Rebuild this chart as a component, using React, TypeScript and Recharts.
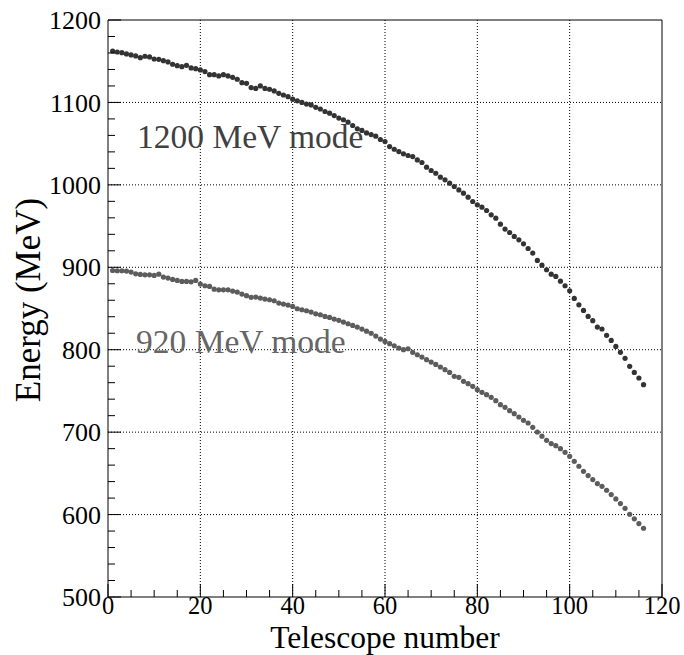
import {
  ScatterChart,
  Scatter,
  XAxis,
  YAxis,
  CartesianGrid,
  ReferenceLine,
} from "recharts";

// telescope index along the detector
const telescopes = [
  1, 2, 3, 4, 5, 6, 7, 8, 9, 10, 11, 12, 13, 14, 15, 16, 17, 18, 19, 20,
  21, 22, 23, 24, 25, 26, 27, 28, 29, 30, 31, 32, 33, 34, 35, 36, 37, 38, 39, 40,
  41, 42, 43, 44, 45, 46, 47, 48, 49, 50, 51, 52, 53, 54, 55, 56, 57, 58, 59, 60,
  61, 62, 63, 64, 65, 66, 67, 68, 69, 70, 71, 72, 73, 74, 75, 76, 77, 78, 79, 80,
  81, 82, 83, 84, 85, 86, 87, 88, 89, 90, 91, 92, 93, 94, 95, 96, 97, 98, 99, 100,
  101, 102, 103, 104, 105, 106, 107, 108, 109, 110, 111, 112, 113, 114, 115, 116,
];

// tagged photon energy per telescope, 1200 MeV beam mode
const energy1200 = [
  1162.4, 1161.2, 1160.4, 1158.8, 1157.6, 1156.4, 1154.3, 1156.0, 1155.2, 1152.7,
  1152.3, 1150.7, 1149.1, 1146.3, 1144.6, 1143.4, 1145.0, 1141.8, 1141.0, 1139.4,
  1137.4, 1133.7, 1133.7, 1132.1, 1133.7, 1132.1, 1130.5, 1128.1, 1124.0, 1123.2,
  1118.0, 1117.0, 1120.0, 1117.0, 1116.0, 1114.0, 1111.0, 1109.0, 1107.0, 1104.0,
  1102.0, 1100.0, 1098.0, 1097.0, 1094.0, 1092.0, 1089.0, 1087.0, 1084.0, 1081.0,
  1079.0, 1076.0, 1072.0, 1068.0, 1066.0, 1063.0, 1061.0, 1059.0, 1055.0, 1052.5,
  1046.5, 1043.2, 1040.4, 1037.6, 1035.6, 1034.3, 1030.3, 1027.1, 1021.5, 1017.4,
  1014.1, 1009.3, 1006.1, 1002.0, 998.0, 993.9, 989.9, 985.0, 979.8, 975.8,
  972.9, 968.9, 963.6, 959.6, 952.3, 946.3, 942.2, 937.4, 933.3, 928.5,
  922.8, 917.2, 908.3, 902.6, 897.0, 891.7, 888.9, 883.2, 877.6, 871.5,
  862.2, 854.5, 847.7, 840.4, 835.2, 827.5, 825.1, 817.4, 811.3, 804.0,
  796.8, 789.5, 779.8, 772.5, 765.7, 757.6,
];

// tagged photon energy per telescope, 920 MeV beam mode
const energy920 = [
  896.1, 895.8, 895.8, 895.4, 894.2, 892.1, 891.3, 890.9, 890.9, 890.1,
  891.7, 888.1, 886.9, 885.3, 884.0, 882.8, 882.8, 882.4, 884.0, 879.6,
  877.6, 876.8, 873.5, 872.7, 872.7, 872.7, 871.1, 869.9, 867.5, 865.5,
  863.5, 863.8, 862.6, 861.4, 860.6, 859.4, 856.6, 855.4, 854.1, 852.5,
  849.7, 848.5, 847.3, 845.7, 843.6, 842.4, 840.4, 839.2, 837.2, 835.6,
  833.5, 831.5, 829.5, 827.5, 825.0, 822.5, 820.0, 816.5, 812.9, 810.1,
  807.3, 804.8, 802.0, 800.0, 801.2, 796.8, 793.9, 791.1, 787.9, 785.0,
  782.2, 779.0, 775.8, 772.5, 767.7, 766.5, 761.6, 758.8, 755.6, 751.5,
  748.3, 745.5, 742.2, 738.2, 733.3, 730.1, 726.1, 722.4, 718.4, 714.3,
  711.1, 705.9, 700.2, 695.1, 690.1, 686.1, 683.6, 680.0, 675.5, 670.7,
  664.6, 658.6, 652.5, 647.3, 642.4, 637.6, 634.3, 629.5, 624.2, 619.0,
  613.3, 607.6, 600.4, 594.8, 589.1, 583.4,
];

const xTicks = [
  0, 5, 10, 15, 20, 25, 30, 35, 40, 45, 50, 55, 60, 65, 70, 75, 80, 85, 90, 95,
  100, 105, 110, 115, 120,
];
const xMajor = [20, 40, 60, 80, 100];
const yTicks = [
  500, 520, 540, 560, 580, 600, 620, 640, 660, 680, 700, 720, 740, 760, 780,
  800, 820, 840, 860, 880, 900, 920, 940, 960, 980, 1000, 1020, 1040, 1060,
  1080, 1100, 1120, 1140, 1160, 1180, 1200,
];
const yMajor = [600, 700, 800, 900, 1000, 1100];

const data1200 = telescopes.map((t, i) => ({ x: t, y: energy1200[i] }));
const data920 = telescopes.map((t, i) => ({ x: t, y: energy920[i] }));

const FONT = '"Liberation Serif", "Times New Roman", serif';

// ticks point into the frame, only majors get a number
const XTick = (props: any) => {
  const { x, y, payload } = props;
  const major = payload.value % 20 === 0;
  return (
    <g>
      <line x1={x} y1={y} x2={x} y2={y - (major ? 13 : 7)} stroke="#000" />
      {major && (
        <text x={x} y={y + 17} textAnchor="middle" fontSize={24.5} fontFamily={FONT} fill="#000">
          {payload.value}
        </text>
      )}
    </g>
  );
};

const YTick = (props: any) => {
  const { x, y, payload } = props;
  const major = payload.value % 100 === 0;
  return (
    <g>
      <line x1={x} y1={y} x2={x + (major ? 13 : 7)} y2={y} stroke="#000" />
      {major && (
        <text x={x - 7} y={y} dy="0.35em" textAnchor="end" fontSize={26} fontFamily={FONT} fill="#000">
          {payload.value}
        </text>
      )}
    </g>
  );
};

const Dot = (color: string) => (p: any) => (
  <circle cx={p.cx} cy={p.cy} r={2.6} fill={color} />
);

export default function App() {
  return (
    <div
      style={{
        position: "absolute",
        left: 0,
        top: 0,
        width: 684,
        height: 655,
        background: "#fff",
        fontFamily: FONT,
      }}
    >
      <ScatterChart
        width={684}
        height={655}
        margin={{ top: 20, right: 22, bottom: 8, left: 18 }}
      >
        <CartesianGrid
          stroke="#000"
          strokeDasharray="1 2"
          horizontalValues={yMajor}
          verticalValues={xMajor}
        />
        <XAxis
          type="number"
          dataKey="x"
          domain={[0, 120]}
          ticks={xTicks}
          interval={0}
          height={50}
          tickSize={0}
          tickMargin={0}
          tickLine={false}
          axisLine={{ stroke: "#000" }}
          tick={<XTick />}
          allowDataOverflow
        />
        <YAxis
          type="number"
          dataKey="y"
          domain={[500, 1200]}
          ticks={yTicks}
          interval={0}
          width={90}
          tickSize={0}
          tickMargin={0}
          tickLine={false}
          axisLine={{ stroke: "#000" }}
          tick={<YTick />}
          allowDataOverflow
        />
        <ReferenceLine y={1200} stroke="#000" />
        <ReferenceLine x={120} stroke="#000" />
        <Scatter data={data1200} shape={Dot("#333333")} isAnimationActive={false} />
        <Scatter data={data920} shape={Dot("#5c5c5c")} isAnimationActive={false} />
      </ScatterChart>

      <div style={{ position: "absolute", left: 137, top: 120, fontSize: 33.5, lineHeight: 1, color: "#404040", whiteSpace: "nowrap" }}>
        1200 MeV mode
      </div>
      <div style={{ position: "absolute", left: 136, top: 325, fontSize: 33.5, lineHeight: 1, color: "#666666", whiteSpace: "nowrap" }}>
        920 MeV mode
      </div>
      <div
        style={{
          position: "absolute",
          left: 385,
          top: 621.5,
          transform: "translateX(-50%)",
          fontSize: 31.5,
          lineHeight: 1,
          whiteSpace: "nowrap",
        }}
      >
        Telescope number
      </div>
      <div
        style={{
          position: "absolute",
          left: 28,
          top: 300,
          transform: "translate(-50%, -50%) rotate(-90deg)",
          fontSize: 35,
          lineHeight: 1,
          whiteSpace: "nowrap",
        }}
      >
        Energy (MeV)
      </div>
    </div>
  );
}
